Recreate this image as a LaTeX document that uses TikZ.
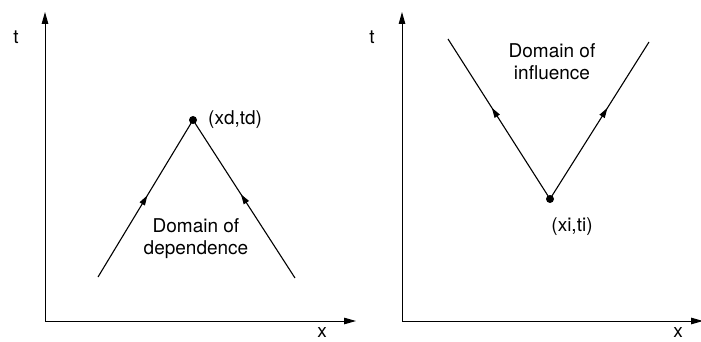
\documentclass[tikz,border=0pt]{standalone}
\usepackage{fontspec}
\setmainfont{TeX Gyre Heros}
\usetikzlibrary{arrows.meta,decorations.markings}
\begin{document}
\begin{tikzpicture}[x=1pt,y=-1pt,
  axis/.style={line width=1pt,-{Triangle[length=12pt,width=6.5pt]}},
  charline/.style={line width=1.1pt,postaction={decorate},
    decoration={markings,mark=at position #1 with {\arrow{Triangle[length=10pt,width=6pt]}}}},
  lbl/.style={inner sep=0pt,font=\fontsize{19}{22}\selectfont},
  pt/.style={circle,fill=black,inner sep=0pt,minimum size=8pt}]
\useasboundingbox (0,0) rectangle (701,342);
% left panel
\coordinate (O1) at (45,321);
\coordinate (T1) at (45,12);
\coordinate (X1) at (356,321);
\draw[axis] (O1) -- (T1);
\draw[axis] (O1) -- (X1);
\node[lbl] (t1) at (16,37) {t};
\node[lbl] (x1) at (322,333) {x};
\coordinate (L1) at (98,277);
\coordinate (R1) at (295,278);
\node[pt] (D) at (193,120) {};
\draw[charline=0.52] (L1) -- (D.center);
\draw[charline=0.53] (R1) -- (D.center);
\node[lbl,anchor=west] (dl) at (208,120) {(xd,td)};
\node[lbl,align=center] (dd) at (196,239) {Domain of\\dependence};
% right panel
\coordinate (O2) at (402,321);
\coordinate (T2) at (402,12);
\coordinate (X2) at (703,321);
\draw[axis] (O2) -- (T2);
\draw[axis] (O2) -- (X2);
\node[lbl] (t2) at (372,37) {t};
\node[lbl] (x2) at (678,333) {x};
\node[pt] (I) at (550,199) {};
\coordinate (L2) at (448,39);
\coordinate (R2) at (649,42);
\draw[charline=0.57] (I.center) -- (L2);
\draw[charline=0.58] (I.center) -- (R2);
\node[lbl] (il) at (572,227) {(xi,ti)};
\node[lbl,align=center] (di) at (552,62) {Domain of\\influence};
\end{tikzpicture}
\end{document}
